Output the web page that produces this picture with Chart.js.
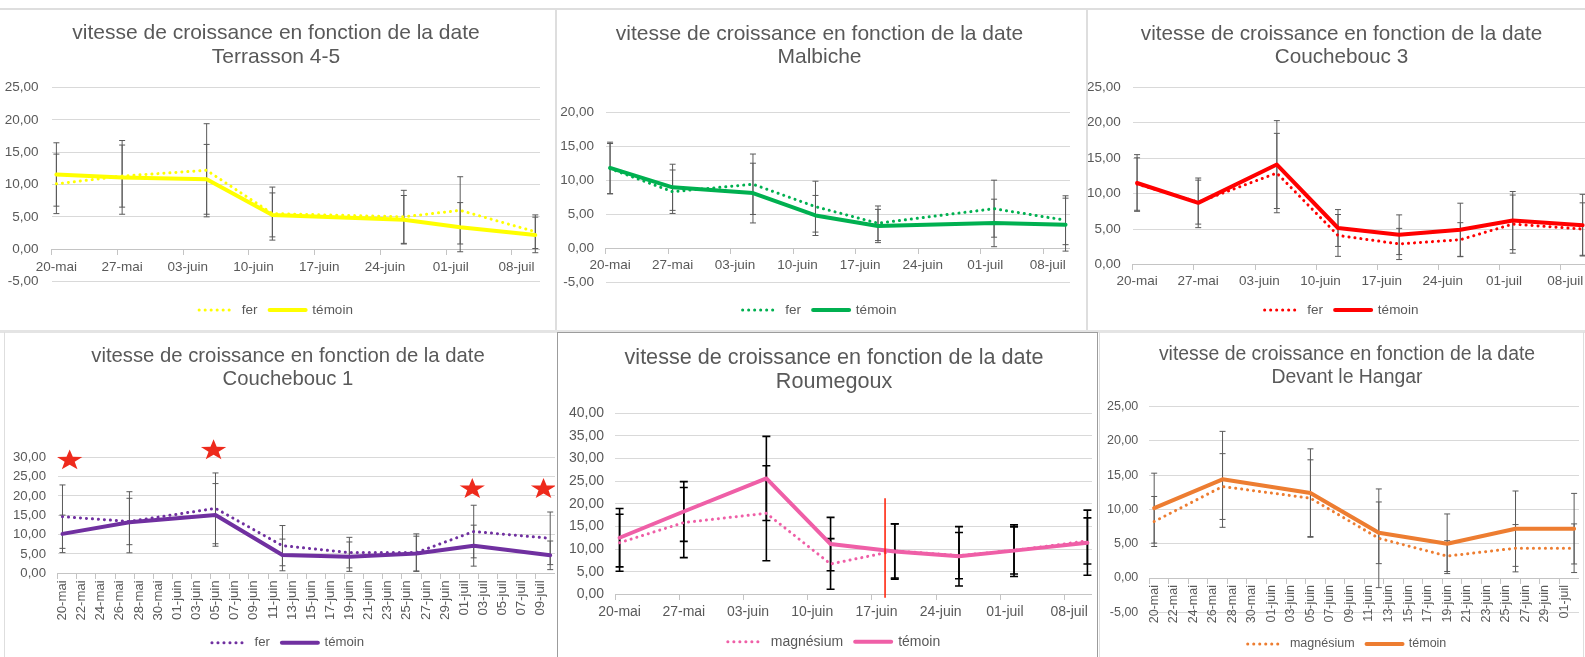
<!DOCTYPE html>
<html lang="fr">
<head>
<meta charset="utf-8">
<title>vitesse de croissance en fonction de la date</title>
<script src="https://cdn.jsdelivr.net/npm/chart.js@4.4.1/dist/chart.umd.min.js"></script>
<style>
html, body { margin:0; padding:0; background:#ffffff; overflow:hidden; }
body { position:relative; width:1585px; height:657px; }
.rule { position:absolute; background:#dedede; }
canvas { position:absolute; }
</style>
</head>
<body>
<div class="rule" style="left:0;top:8px;width:1585px;height:2px"></div>
<div class="rule" style="left:555px;top:9px;width:2px;height:322px"></div>
<div class="rule" style="left:1086px;top:9px;width:2px;height:322px"></div>
<div class="rule" style="left:0;top:330px;width:1585px;height:3px;background:#e4e4e4"></div>
<div class="rule" style="left:4px;top:332px;width:1px;height:325px"></div>
<div class="rule" style="left:1099px;top:332px;width:1px;height:325px"></div>
<div class="rule" style="left:1583px;top:332px;width:1px;height:325px"></div>
<div style="position:absolute;left:557px;top:332px;width:541px;height:330px;border:1.5px solid #9c9c9c;box-sizing:border-box"></div>
<canvas id="c1"></canvas>
<canvas id="c2"></canvas>
<canvas id="c3"></canvas>
<canvas id="c4"></canvas>
<canvas id="c5"></canvas>
<canvas id="c6"></canvas>
<script>
// ---------------- DATA ----------------
const chartTitle = 'vitesse de croissance en fonction de la date';
const monthNames = ['mai', 'juin', 'juil'];
const monthLengths = [31, 30, 31];

// Terrasson 4-5
const terrassonDates = ['20-mai', '27-mai', '05-juin', '12-juin', '26-juin', '02-juil', '10-juil'];
const terrassonFer = [10.1, 11.3, 12.2, 5.5, 5.0, 6.0, 2.7];
const terrassonFerErr = [4.6, 4.8, 7.2, 4.1, 4.1, 5.2, 2.6];
const terrassonTemoin = [11.55, 11.1, 10.8, 5.3, 4.55, 3.4, 2.2];
const terrassonTemoinErr = [4.9, 5.7, 5.4, 3.4, 3.75, 3.8, 2.75];

// Malbiche
const malbicheDates = ['20-mai', '27-mai', '05-juin', '12-juin', '19-juin', '02-juil', '10-juil'];
const malbicheFer = [11.7, 8.3, 9.4, 6.1, 3.65, 5.8, 4.1];
const malbicheFerErr = [3.7, 3.2, 4.45, 3.75, 2.55, 4.2, 3.6];
const malbicheTemoin = [11.8, 8.95, 8.1, 4.8, 3.25, 3.7, 3.45];
const malbicheTemoinErr = [3.8, 3.4, 4.4, 2.95, 2.45, 3.5, 3.9];

// Couchebouc 3
const couchebouc3Dates = ['20-mai', '27-mai', '05-juin', '12-juin', '19-juin', '26-juin', '02-juil', '10-juil'];
const couchebouc3Fer = [11.35, 8.8, 12.9, 4.1, 2.9, 3.5, 5.7, 5.0];
const couchebouc3FerErr = [3.7, 3.1, 5.6, 2.95, 2.2, 2.4, 4.1, 3.7];
const couchebouc3Temoin = [11.5, 8.7, 14.1, 5.15, 4.2, 4.9, 6.2, 5.55];
const couchebouc3TemoinErr = [4.0, 3.5, 6.2, 2.6, 2.8, 3.75, 4.1, 4.35];

// Couchebouc 1
const couchebouc1Dates = ['20-mai', '27-mai', '05-juin', '12-juin', '19-juin', '26-juin', '02-juil', '10-juil'];
const couchebouc1Fer = [14.65, 13.4, 16.8, 7.15, 5.35, 5.35, 10.8, 9.05];
const couchebouc1FerErr = [8.2, 6.0, 9.15, 5.2, 3.95, 4.85, 6.8, 6.8];
const couchebouc1Temoin = [10.2, 13.2, 15.1, 4.75, 4.3, 5.1, 7.15, 4.65];
const couchebouc1TemoinErr = [4.85, 7.9, 8.1, 4.1, 3.8, 4.5, 5.3, 3.7];
const couchebouc1StarDay = [0.75, 15.8, 42.85, 50.3];   // position in days after 20-mai
const couchebouc1StarValue = [29.2, 31.8, 21.8, 21.8];

// Roumegoux
const roumegouxDates = ['20-mai', '27-mai', '05-juin', '12-juin', '19-juin', '26-juin', '02-juil', '10-juil'];
const roumegouxMagnesium = [11.4, 15.85, 17.9, 6.7, 9.6, 8.55, 9.7, 11.8];
const roumegouxMagnesiumErr = [6.3, 7.75, 10.5, 5.6, 6.0, 5.1, 5.2, 5.1];
const roumegouxTemoin = [12.5, 18.3, 25.6, 11.1, 9.45, 8.4, 9.65, 11.4];
const roumegouxTemoinErr = [6.45, 6.6, 9.3, 5.9, 6.1, 6.55, 5.7, 7.2];
const roumegouxMarkDay = [28.94];
const roumegouxMarkFrom = [-0.75];
const roumegouxMarkTo = [21.2];

// Devant le Hangar
const hangarDates = ['20-mai', '27-mai', '05-juin', '12-juin', '19-juin', '26-juin', '02-juil'];
const hangarMagnesium = [8.25, 13.35, 11.65, 5.8, 3.2, 4.35, 4.35];
const hangarMagnesiumErr = [3.65, 4.8, 5.6, 7.2, 2.25, 3.45, 3.55];
const hangarTemoin = [10.2, 14.4, 12.4, 6.6, 5.0, 7.2, 7.2];
const hangarTemoinErr = [5.1, 7.0, 6.45, 4.5, 4.35, 5.5, 5.15];

// ---------------- HELPERS ----------------
function makeDays(count) {            // day-by-day category labels starting 20-mai
  const out = []; let m = 0, d = 20;
  for (let i = 0; i < count; i++) {
    out.push(String(d).padStart(2, '0') + '-' + monthNames[m]);
    d++; if (d > monthLengths[m]) { d = 1; m++; }
  }
  return out;
}
const days52 = makeDays(52);
const days44 = makeDays(44);
const fmt = v => v.toFixed(2).replace('.', ',');

const TEXT = '#595959', GRID = '#d9d9d9', AXIS = '#c4c4c4';
Chart.defaults.font.family = "'Liberation Sans', Arial, Helvetica, sans-serif";
Chart.defaults.color = TEXT;

const errorBarPlugin = {
  id: 'errorBars',
  beforeDatasetsDraw(chart, args, opts) {
    const ctx = chart.ctx, ys = chart.scales.y;
    chart.data.datasets.forEach((ds, di) => {
      if (!ds.errors) return;
      const meta = chart.getDatasetMeta(di);
      ctx.save();
      ctx.strokeStyle = opts.color; ctx.lineWidth = opts.width;
      meta.data.forEach((pt, i) => {
        const v = ds.data[i].y, e = ds.errors[i];
        const x = pt.x;
        const y1 = ys.getPixelForValue(v + e), y2 = ys.getPixelForValue(v - e);
        ctx.beginPath();
        ctx.moveTo(x, y1); ctx.lineTo(x, y2);
        ctx.moveTo(x - opts.cap, y1); ctx.lineTo(x + opts.cap, y1);
        ctx.moveTo(x - opts.cap, y2); ctx.lineTo(x + opts.cap, y2);
        ctx.stroke();
      });
      ctx.restore();
    });
  }
};

const marksPlugin = {
  id: 'marks',
  afterLayout(chart) {
    // let the y tick labels use the whole left margin (avoid clipping of "25,00")
    chart.scales.y.left = 0;
  },
  afterDatasetsDraw(chart, args, opts) {
    const ctx = chart.ctx, xs = chart.scales.x, ys = chart.scales.y;
    (opts.vlines || []).forEach(l => {
      const x = xs.getPixelForValue(l.day);
      ctx.save(); ctx.strokeStyle = l.color; ctx.lineWidth = l.width;
      ctx.beginPath(); ctx.moveTo(x, ys.getPixelForValue(l.from)); ctx.lineTo(x, ys.getPixelForValue(l.to)); ctx.stroke();
      ctx.restore();
    });
    (opts.stars || []).forEach(s => {
      const cx = xs.getPixelForValue(s.day), cy = ys.getPixelForValue(s.value);
      ctx.save(); ctx.fillStyle = s.color; ctx.beginPath();
      for (let k = 0; k < 10; k++) {
        const a = -Math.PI / 2 + k * Math.PI / 5, r = k % 2 ? 0.4 : 1;
        const px = cx + Math.cos(a) * s.rx * r, py = cy + Math.sin(a) * s.ry * r;
        k ? ctx.lineTo(px, py) : ctx.moveTo(px, py);
      }
      ctx.closePath(); ctx.fill(); ctx.restore();
    });
  }
};

function legendLabels(chart) {
  const items = Chart.defaults.plugins.legend.labels.generateLabels(chart);
  items.forEach(it => {
    const ds = chart.data.datasets[it.datasetIndex];
    it.pointStyle = 'line'; it.lineDash = ds.borderDash; it.lineWidth = ds.borderWidth;
    it.strokeStyle = ds.borderColor; it.fillStyle = ds.borderColor; it.lineCap = ds.borderCapStyle;
  });
  return items;
}

function buildPanel(p) {
  const g = p.geom;
  const cv = document.getElementById(p.canvas);
  cv.width = g.w; cv.height = g.h;
  cv.style.left = g.x + 'px'; cv.style.top = g.y + 'px';
  const f = p.font, lp = 12;
  const pl = 2 * g.cx - 2 * g.x - g.w;
  const yw = g.left - g.x - pl;
  const tpt = g.titleY - g.tlh / 2 - g.y;
  const tpb = g.top - g.y - tpt - 2 * g.tlh;
  const legendH = f + lp + 10;
  const legendTop = g.legendY - lp - f / 2;
  const gapH = legendTop - g.bottom;
  const pb = g.y + g.h - legendTop - legendH;

  const datasets = p.series.map(s => ({
    label: s.label,
    data: p.dates.map((d, k) => ({ x: d, y: s.values[k] })),
    errors: s.errors,
    borderColor: p.color, backgroundColor: p.color,
    borderWidth: s.dotted ? 3 : 4,
    borderDash: s.dotted ? [0.1, 5.9] : [],
    borderCapStyle: 'round', borderJoinStyle: 'round',
    pointRadius: 0, pointHoverRadius: 0, tension: 0,
    order: s.dotted ? 1 : 0,
    xAxisID: 'x', yAxisID: 'y'
  }));

  new Chart(cv, {
    type: 'line',
    data: { labels: p.days, datasets },
    options: {
      responsive: false, animation: false, events: [],
      layout: { padding: { left: pl, right: 0, top: 0, bottom: pb } },
      plugins: {
        title: { display: true, text: [chartTitle, p.name], color: TEXT,
          font: { size: p.titleSize, weight: 'normal', lineHeight: g.tlh + 'px' },
          padding: { top: tpt, bottom: tpb } },
        legend: { display: true, position: 'bottom',
          labels: { usePointStyle: true, pointStyle: 'line', pointStyleWidth: 36, padding: lp, color: TEXT,
            font: { size: f }, sort: (a, b) => a.datasetIndex - b.datasetIndex, generateLabels: legendLabels } },
        tooltip: { enabled: false },
        errorBars: p.err,
        marks: { stars: p.stars || [], vlines: p.vlines || [] }
      },
      scales: {
        x: {
          type: 'category', offset: true, position: { y: 0 },
          grid: { display: true, offset: true, drawOnChartArea: false, drawTicks: true, tickLength: 5, color: AXIS,
            tickColor: c => (c.index !== undefined && c.index % p.step === 0) ? AXIS : 'rgba(0,0,0,0)' },
          border: { display: true, color: AXIS, width: 1 },
          ticks: { autoSkip: false, maxRotation: p.rot, minRotation: p.rot, padding: p.xPad, color: TEXT,
            font: { size: f },
            callback: function (v, i) { return i % p.step === 0 ? this.getLabelForValue(v) : ''; } },
          afterFit: s => { s.paddingLeft = 0; s.paddingRight = 0; }
        },
        y: {
          type: 'linear', position: 'left', min: p.yMin, max: p.yMax,
          grid: { color: GRID, lineWidth: 1, drawTicks: false },
          border: { display: false },
          ticks: { stepSize: 5, padding: p.yPad, color: TEXT, font: { size: f }, callback: v => fmt(v) },
          afterFit: s => { s.width = yw; }
        },
        gap: {
          type: 'linear', axis: 'x', position: 'bottom', display: true,
          grid: { display: false, drawTicks: false }, border: { display: false }, ticks: { display: false },
          afterFit: s => { s.height = gapH; s.paddingLeft = 0; s.paddingRight = 0; }
        }
      }
    },
    plugins: [errorBarPlugin, marksPlugin]
  });
}

const greyErr = { color: '#5a5a5a', width: 1, cap: 3 };

buildPanel({
  canvas: 'c1', name: 'Terrasson 4-5', color: '#ffff00', days: days52, step: 7, rot: 0,
  dates: terrassonDates, yMin: -5, yMax: 25, font: 13.5, titleSize: 21, yPad: 13.1, xPad: 4.7, err: greyErr,
  series: [
    { label: 'fer', dotted: true, values: terrassonFer, errors: terrassonFerErr },
    { label: 'témoin', dotted: false, values: terrassonTemoin, errors: terrassonTemoinErr }
  ],
  geom: { x: 0, y: 10, w: 540, h: 318, cx: 276, left: 51.7, top: 87.5, bottom: 281.5, titleY: 33.3, tlh: 24, legendY: 310 }
});

buildPanel({
  canvas: 'c2', name: 'Malbiche', color: '#00b050', days: days52, step: 7, rot: 0,
  dates: malbicheDates, yMin: -5, yMax: 20, font: 13.5, titleSize: 21, yPad: 11.6, xPad: 3.8, err: greyErr,
  series: [
    { label: 'fer', dotted: true, values: malbicheFer, errors: malbicheFerErr },
    { label: 'témoin', dotted: false, values: malbicheTemoin, errors: malbicheTemoinErr }
  ],
  geom: { x: 557, y: 10, w: 513, h: 318, cx: 819.5, left: 605.6, top: 112.3, bottom: 282, titleY: 34.3, tlh: 23, legendY: 310 }
});

buildPanel({
  canvas: 'c3', name: 'Couchebouc 3', color: '#ff0000', days: days52, step: 7, rot: 0,
  dates: couchebouc3Dates, yMin: 0, yMax: 25, font: 13.5, titleSize: 20.7, yPad: 12, xPad: 4.1, err: greyErr,
  series: [
    { label: 'fer', dotted: true, values: couchebouc3Fer, errors: couchebouc3FerErr },
    { label: 'témoin', dotted: false, values: couchebouc3Temoin, errors: couchebouc3TemoinErr }
  ],
  geom: { x: 1088, y: 10, w: 499, h: 318, cx: 1341.5, left: 1132.7, top: 87.3, bottom: 264.5, titleY: 34.3, tlh: 23, legendY: 310 }
});

buildPanel({
  canvas: 'c4', name: 'Couchebouc 1', color: '#7030a0', days: days52, step: 2, rot: 90,
  dates: couchebouc1Dates, yMin: 0, yMax: 30, font: 13.2, titleSize: 20.3, yPad: 11.7, xPad: 2, err: greyErr,
  series: [
    { label: 'fer', dotted: true, values: couchebouc1Fer, errors: couchebouc1FerErr },
    { label: 'témoin', dotted: false, values: couchebouc1Temoin, errors: couchebouc1TemoinErr }
  ],
  stars: couchebouc1StarDay.map((d, i) => ({ day: d, value: couchebouc1StarValue[i], rx: 13.3, ry: 11, color: '#ee2a1c' })),
  geom: { x: 5, y: 333, w: 550, h: 327, cx: 288, left: 57.7, top: 457.3, bottom: 573.3, titleY: 356.7, tlh: 22.3, legendY: 642.7 }
});

buildPanel({
  canvas: 'c5', name: 'Roumegoux', color: '#ef5fa7', days: days52, step: 7, rot: 0,
  dates: roumegouxDates, yMin: 0, yMax: 40, font: 14, titleSize: 21.6, yPad: 11, xPad: 4,
  err: { color: '#000000', width: 1.6, cap: 4 },
  series: [
    { label: 'magnésium', dotted: true, values: roumegouxMagnesium, errors: roumegouxMagnesiumErr },
    { label: 'témoin', dotted: false, values: roumegouxTemoin, errors: roumegouxTemoinErr }
  ],
  vlines: roumegouxMarkDay.map((d, i) => ({ day: d, from: roumegouxMarkFrom[i], to: roumegouxMarkTo[i], color: '#ff1a00', width: 1.5 })),
  geom: { x: 558, y: 333, w: 534, h: 326, cx: 834, left: 615, top: 413.3, bottom: 594.3, titleY: 358.3, tlh: 24, legendY: 641.7 }
});

buildPanel({
  canvas: 'c6', name: 'Devant le Hangar', color: '#ed7d31', days: days44, step: 2, rot: 90,
  dates: hangarDates, yMin: -5, yMax: 25, font: 12.5, titleSize: 19.4, yPad: 11, xPad: 2, err: greyErr,
  series: [
    { label: 'magnésium', dotted: true, values: hangarMagnesium, errors: hangarMagnesiumErr },
    { label: 'témoin', dotted: false, values: hangarTemoin, errors: hangarTemoinErr }
  ],
  geom: { x: 1100, y: 333, w: 479, h: 328, cx: 1347, left: 1149.3, top: 406.7, bottom: 612.3, titleY: 355, tlh: 22.3, legendY: 644 }
});
</script>
</body>
</html>
